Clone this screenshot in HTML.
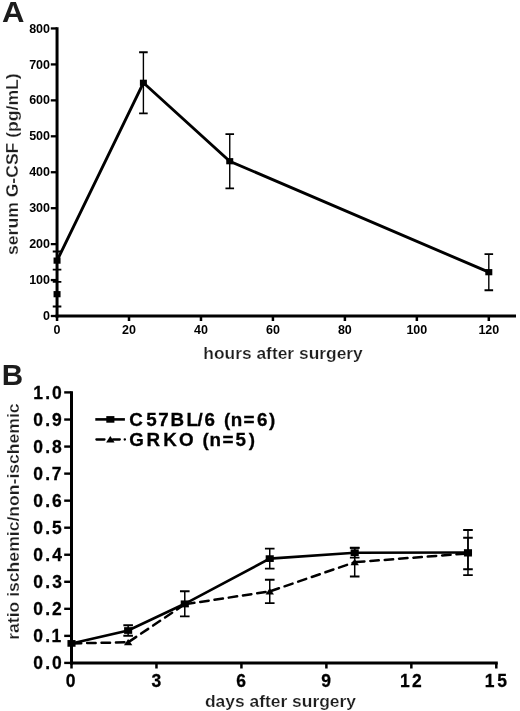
<!DOCTYPE html>
<html lang="en">
<head>
<meta charset="utf-8">
<title>Figure</title>
<style>
html,body{margin:0;padding:0;background:#fff;}
body{width:520px;height:711px;overflow:hidden;}
svg{display:block;will-change:transform;}
text{font-family:"Liberation Sans", sans-serif;font-weight:bold;fill:#000;}
.ta{font-size:12.5px;}
.tb{font-size:18.8px;stroke:#000;stroke-width:0.3px;}
.tt{font-size:16.45px;fill:#1e1e1e;stroke:#fff;stroke-width:0.2px;}
.pl{font-size:30.2px;fill:#1c1c1c;}
</style>
</head>
<body>
<svg width="520" height="711" viewBox="0 0 520 711">
<rect width="520" height="711" fill="#fff"/>
<g id="chartA">
<line x1="57.05" y1="27.3" x2="57.05" y2="317.5" stroke="#000" stroke-width="3"/>
<line x1="55.55" y1="316.0" x2="516" y2="316.0" stroke="#000" stroke-width="3"/>
<line x1="50.8" y1="316.00" x2="57.05" y2="316.00" stroke="#000" stroke-width="2.3"/>
<text class="ta" x="50" y="320.10" text-anchor="end">0</text>
<line x1="50.8" y1="280.06" x2="57.05" y2="280.06" stroke="#000" stroke-width="2.3"/>
<text class="ta" x="50" y="284.16" text-anchor="end">100</text>
<line x1="50.8" y1="244.12" x2="57.05" y2="244.12" stroke="#000" stroke-width="2.3"/>
<text class="ta" x="50" y="248.22" text-anchor="end">200</text>
<line x1="50.8" y1="208.18" x2="57.05" y2="208.18" stroke="#000" stroke-width="2.3"/>
<text class="ta" x="50" y="212.28" text-anchor="end">300</text>
<line x1="50.8" y1="172.24" x2="57.05" y2="172.24" stroke="#000" stroke-width="2.3"/>
<text class="ta" x="50" y="176.34" text-anchor="end">400</text>
<line x1="50.8" y1="136.30" x2="57.05" y2="136.30" stroke="#000" stroke-width="2.3"/>
<text class="ta" x="50" y="140.40" text-anchor="end">500</text>
<line x1="50.8" y1="100.36" x2="57.05" y2="100.36" stroke="#000" stroke-width="2.3"/>
<text class="ta" x="50" y="104.46" text-anchor="end">600</text>
<line x1="50.8" y1="64.42" x2="57.05" y2="64.42" stroke="#000" stroke-width="2.3"/>
<text class="ta" x="50" y="68.52" text-anchor="end">700</text>
<line x1="50.8" y1="28.45" x2="57.05" y2="28.45" stroke="#000" stroke-width="2.3"/>
<text class="ta" x="50" y="32.58" text-anchor="end">800</text>
<line x1="57.05" y1="316.0" x2="57.05" y2="321" stroke="#000" stroke-width="2.5"/>
<text class="ta" x="57.05" y="334.2" text-anchor="middle">0</text>
<line x1="129.01" y1="316.0" x2="129.01" y2="321" stroke="#000" stroke-width="2.5"/>
<text class="ta" x="129.01" y="334.2" text-anchor="middle">20</text>
<line x1="200.97" y1="316.0" x2="200.97" y2="321" stroke="#000" stroke-width="2.5"/>
<text class="ta" x="200.97" y="334.2" text-anchor="middle">40</text>
<line x1="272.93" y1="316.0" x2="272.93" y2="321" stroke="#000" stroke-width="2.5"/>
<text class="ta" x="272.93" y="334.2" text-anchor="middle">60</text>
<line x1="344.89" y1="316.0" x2="344.89" y2="321" stroke="#000" stroke-width="2.5"/>
<text class="ta" x="344.89" y="334.2" text-anchor="middle">80</text>
<line x1="416.85" y1="316.0" x2="416.85" y2="321" stroke="#000" stroke-width="2.5"/>
<text class="ta" x="416.85" y="334.2" text-anchor="middle">100</text>
<line x1="488.81" y1="316.0" x2="488.81" y2="321" stroke="#000" stroke-width="2.5"/>
<text class="ta" x="488.81" y="334.2" text-anchor="middle">120</text>
<path d="M57.05 251.52V269.71" stroke="#000" stroke-width="1.4" fill="none"/>
<path d="M52.75 251.52h8.6M52.75 269.71h8.6" stroke="#000" stroke-width="1.8" fill="none"/>
<path d="M143.40 52.24V113.33" stroke="#000" stroke-width="1.4" fill="none"/>
<path d="M139.10 52.24h8.6M139.10 113.33h8.6" stroke="#000" stroke-width="1.8" fill="none"/>
<path d="M229.75 134.07V188.34" stroke="#000" stroke-width="1.4" fill="none"/>
<path d="M225.45 134.07h8.6M225.45 188.34h8.6" stroke="#000" stroke-width="1.8" fill="none"/>
<path d="M488.81 254.15V290.23" stroke="#000" stroke-width="1.4" fill="none"/>
<path d="M484.51 254.15h8.6M484.51 290.23h8.6" stroke="#000" stroke-width="1.8" fill="none"/>
<path d="M57.05 281.89V306.48" stroke="#000" stroke-width="1.4" fill="none"/>
<path d="M52.75 281.89h8.6M52.75 306.48h8.6" stroke="#000" stroke-width="1.8" fill="none"/>
<polyline fill="none" stroke="#000" stroke-width="2.9" stroke-linejoin="miter" points="57.05,260.62 143.40,82.79 229.75,161.21 488.81,272.19"/>
<rect x="53.55" y="257.52" width="7.0" height="6.2" fill="#000"/>
<rect x="139.90" y="79.69" width="7.0" height="6.2" fill="#000"/>
<rect x="226.25" y="158.11" width="7.0" height="6.2" fill="#000"/>
<rect x="485.31" y="269.09" width="7.0" height="6.2" fill="#000"/>
<rect x="53.55" y="291.08" width="7.0" height="6.2" fill="#000"/>
</g>
<g id="chartB">
<line x1="71.5" y1="391.2" x2="71.5" y2="664.4" stroke="#000" stroke-width="3"/>
<line x1="70.0" y1="662.9" x2="497.8" y2="662.9" stroke="#000" stroke-width="3"/>
<line x1="64.2" y1="662.90" x2="71.5" y2="662.90" stroke="#000" stroke-width="2.4"/>
<text class="tb" transform="scale(0.93 1)" x="35.8 48.8 55.9" y="669.30">0.0</text>
<line x1="64.2" y1="635.86" x2="71.5" y2="635.86" stroke="#000" stroke-width="2.4"/>
<text class="tb" transform="scale(0.93 1)" x="35.8 48.8 55.3" y="642.26">0.1</text>
<line x1="64.2" y1="608.82" x2="71.5" y2="608.82" stroke="#000" stroke-width="2.4"/>
<text class="tb" transform="scale(0.93 1)" x="35.8 48.8 55.9" y="615.22">0.2</text>
<line x1="64.2" y1="581.78" x2="71.5" y2="581.78" stroke="#000" stroke-width="2.4"/>
<text class="tb" transform="scale(0.93 1)" x="35.8 48.8 56.1" y="588.18">0.3</text>
<line x1="64.2" y1="554.74" x2="71.5" y2="554.74" stroke="#000" stroke-width="2.4"/>
<text class="tb" transform="scale(0.93 1)" x="35.8 48.8 56.3" y="561.14">0.4</text>
<line x1="64.2" y1="527.70" x2="71.5" y2="527.70" stroke="#000" stroke-width="2.4"/>
<text class="tb" transform="scale(0.93 1)" x="35.8 48.8 55.9" y="534.10">0.5</text>
<line x1="64.2" y1="500.66" x2="71.5" y2="500.66" stroke="#000" stroke-width="2.4"/>
<text class="tb" transform="scale(0.93 1)" x="35.8 48.8 55.9" y="507.06">0.6</text>
<line x1="64.2" y1="473.62" x2="71.5" y2="473.62" stroke="#000" stroke-width="2.4"/>
<text class="tb" transform="scale(0.93 1)" x="35.8 48.8 55.7" y="480.02">0.7</text>
<line x1="64.2" y1="446.58" x2="71.5" y2="446.58" stroke="#000" stroke-width="2.4"/>
<text class="tb" transform="scale(0.93 1)" x="35.8 48.8 55.9" y="452.98">0.8</text>
<line x1="64.2" y1="419.54" x2="71.5" y2="419.54" stroke="#000" stroke-width="2.4"/>
<text class="tb" transform="scale(0.93 1)" x="35.8 48.8 55.9" y="425.94">0.9</text>
<line x1="64.2" y1="392.40" x2="71.5" y2="392.40" stroke="#000" stroke-width="2.4"/>
<text class="tb" transform="scale(0.93 1)" x="35.8 48.8 55.9" y="398.90">1.0</text>
<line x1="71.50" y1="662.9" x2="71.50" y2="668.5" stroke="#000" stroke-width="2.5"/>
<text class="tb" transform="translate(70.50 686.7) scale(0.93 1)" text-anchor="middle">0</text>
<line x1="156.46" y1="662.9" x2="156.46" y2="668.5" stroke="#000" stroke-width="2.5"/>
<text class="tb" transform="translate(156.26 686.7) scale(0.93 1)" text-anchor="middle">3</text>
<line x1="241.42" y1="662.9" x2="241.42" y2="668.5" stroke="#000" stroke-width="2.5"/>
<text class="tb" transform="translate(241.22 686.7) scale(0.93 1)" text-anchor="middle">6</text>
<line x1="326.38" y1="662.9" x2="326.38" y2="668.5" stroke="#000" stroke-width="2.5"/>
<text class="tb" transform="translate(326.18 686.7) scale(0.93 1)" text-anchor="middle">9</text>
<line x1="411.34" y1="662.9" x2="411.34" y2="668.5" stroke="#000" stroke-width="2.5"/>
<text class="tb" transform="scale(0.93 1)" x="430.2 443.1" y="686.7">12</text>
<line x1="496.30" y1="662.9" x2="496.30" y2="668.5" stroke="#000" stroke-width="2.5"/>
<text class="tb" transform="scale(0.93 1)" x="521.3 534.7" y="686.7">15</text>
<path d="M269.74 579.70V603.11" stroke="#000" stroke-width="1.5" fill="none"/>
<path d="M264.94 579.70h9.6M264.94 603.11h9.6" stroke="#000" stroke-width="1.9" fill="none"/>
<path d="M354.70 547.90V576.51" stroke="#000" stroke-width="1.5" fill="none"/>
<path d="M349.90 547.90h9.6M349.90 576.51h9.6" stroke="#000" stroke-width="1.9" fill="none"/>
<path d="M467.98 537.70V569.18" stroke="#000" stroke-width="1.5" fill="none"/>
<path d="M463.18 537.70h9.6M463.18 569.18h9.6" stroke="#000" stroke-width="1.9" fill="none"/>
<path d="M128.14 625.21V635.81" stroke="#000" stroke-width="1.5" fill="none"/>
<path d="M123.34 625.21h9.6M123.34 635.81h9.6" stroke="#000" stroke-width="1.9" fill="none"/>
<path d="M184.78 591.19V616.39" stroke="#000" stroke-width="1.5" fill="none"/>
<path d="M179.98 591.19h9.6M179.98 616.39h9.6" stroke="#000" stroke-width="1.9" fill="none"/>
<path d="M269.74 548.60V568.61" stroke="#000" stroke-width="1.5" fill="none"/>
<path d="M264.94 548.60h9.6M264.94 568.61h9.6" stroke="#000" stroke-width="1.9" fill="none"/>
<path d="M354.70 547.82V557.61" stroke="#000" stroke-width="1.5" fill="none"/>
<path d="M349.90 547.82h9.6M349.90 557.61h9.6" stroke="#000" stroke-width="1.9" fill="none"/>
<path d="M467.98 530.00V575.10" stroke="#000" stroke-width="1.5" fill="none"/>
<path d="M463.18 530.00h9.6M463.18 575.10h9.6" stroke="#000" stroke-width="1.9" fill="none"/>
<line x1="71.50" y1="643.40" x2="128.14" y2="642.30" stroke="#000" stroke-width="2.5" stroke-linecap="round" stroke-dasharray="8.5 5.9" stroke-dashoffset="-1.25"/>
<line x1="128.14" y1="642.30" x2="184.78" y2="604.30" stroke="#000" stroke-width="2.5" stroke-linecap="round" stroke-dasharray="8.5 5.9" stroke-dashoffset="-1.25"/>
<line x1="184.78" y1="604.30" x2="269.74" y2="591.41" stroke="#000" stroke-width="2.5" stroke-linecap="round" stroke-dasharray="8.5 5.9" stroke-dashoffset="-1.25"/>
<line x1="269.74" y1="591.41" x2="354.70" y2="562.20" stroke="#000" stroke-width="2.5" stroke-linecap="round" stroke-dasharray="8.5 5.9" stroke-dashoffset="-1.25"/>
<line x1="354.70" y1="562.20" x2="467.98" y2="553.44" stroke="#000" stroke-width="2.5" stroke-linecap="round" stroke-dasharray="8.5 5.9" stroke-dashoffset="-1.25"/>
<polyline fill="none" stroke="#000" stroke-width="2.6" points="71.50,643.40 128.14,630.51 184.78,603.79 269.74,558.61 354.70,552.71 467.98,552.55"/>
<path d="M128.14 638.90L132.34 645.30H123.94Z" fill="#000"/>
<path d="M184.78 600.90L188.98 607.30H180.58Z" fill="#000"/>
<path d="M269.74 588.01L273.94 594.41H265.54Z" fill="#000"/>
<path d="M354.70 558.80L358.90 565.20H350.50Z" fill="#000"/>
<path d="M467.98 550.04L472.18 556.44H463.78Z" fill="#000"/>
<rect x="67.45" y="640.05" width="8.1" height="6.7" fill="#000"/>
<rect x="124.09" y="627.16" width="8.1" height="6.7" fill="#000"/>
<rect x="180.73" y="600.44" width="8.1" height="6.7" fill="#000"/>
<rect x="265.69" y="555.26" width="8.1" height="6.7" fill="#000"/>
<rect x="350.65" y="549.36" width="8.1" height="6.7" fill="#000"/>
<rect x="463.93" y="549.20" width="8.1" height="6.7" fill="#000"/>
<line x1="95.3" y1="419.4" x2="124.9" y2="419.4" stroke="#000" stroke-width="2.6"/>
<rect x="106.3" y="416.1" width="8.1" height="6.6" fill="#000"/>
<path d="M96.4 439.5H104.5M113 439.5H119.8M124.7 439.5H124.9" stroke="#000" stroke-width="2.3" stroke-linecap="round" fill="none"/>
<path d="M110.3 436.0L114.6 442.4H106.1Z" fill="#000"/>
<text class="tb" x="129.3 146.3 158.3 170.4 186.4 197.6 204.5 215.0 224.1 230.8 243.5 257.0 269.0" y="426.4">C57BL/6 (n=6)</text>
<text class="tb" x="129.3 146.4 163.2 179.0 193.7 202.5 209.4 222.5 235.5 248.8" y="446.2">GRKO (n=5)</text>
</g>
<text class="pl" transform="translate(2.1 21.9) scale(1.03 1)">A</text>
<text class="pl" transform="translate(1.7 384.7) scale(0.98 1)">B</text>
<text class="tt" transform="translate(203.3 359.3) scale(1.058 1)">hours after surgery</text>
<text class="tt" transform="translate(204.9 707) scale(1.06 1)">days after surgery</text>
<text class="tt" transform="translate(17.6 255) rotate(-90) scale(1.07 1)">serum G-CSF (pg/mL)</text>
<text class="tt" transform="translate(18.9 639.8) rotate(-90) scale(1.07 1)">ratio ischemic/non-ischemic</text>
</svg>
</body>
</html>
